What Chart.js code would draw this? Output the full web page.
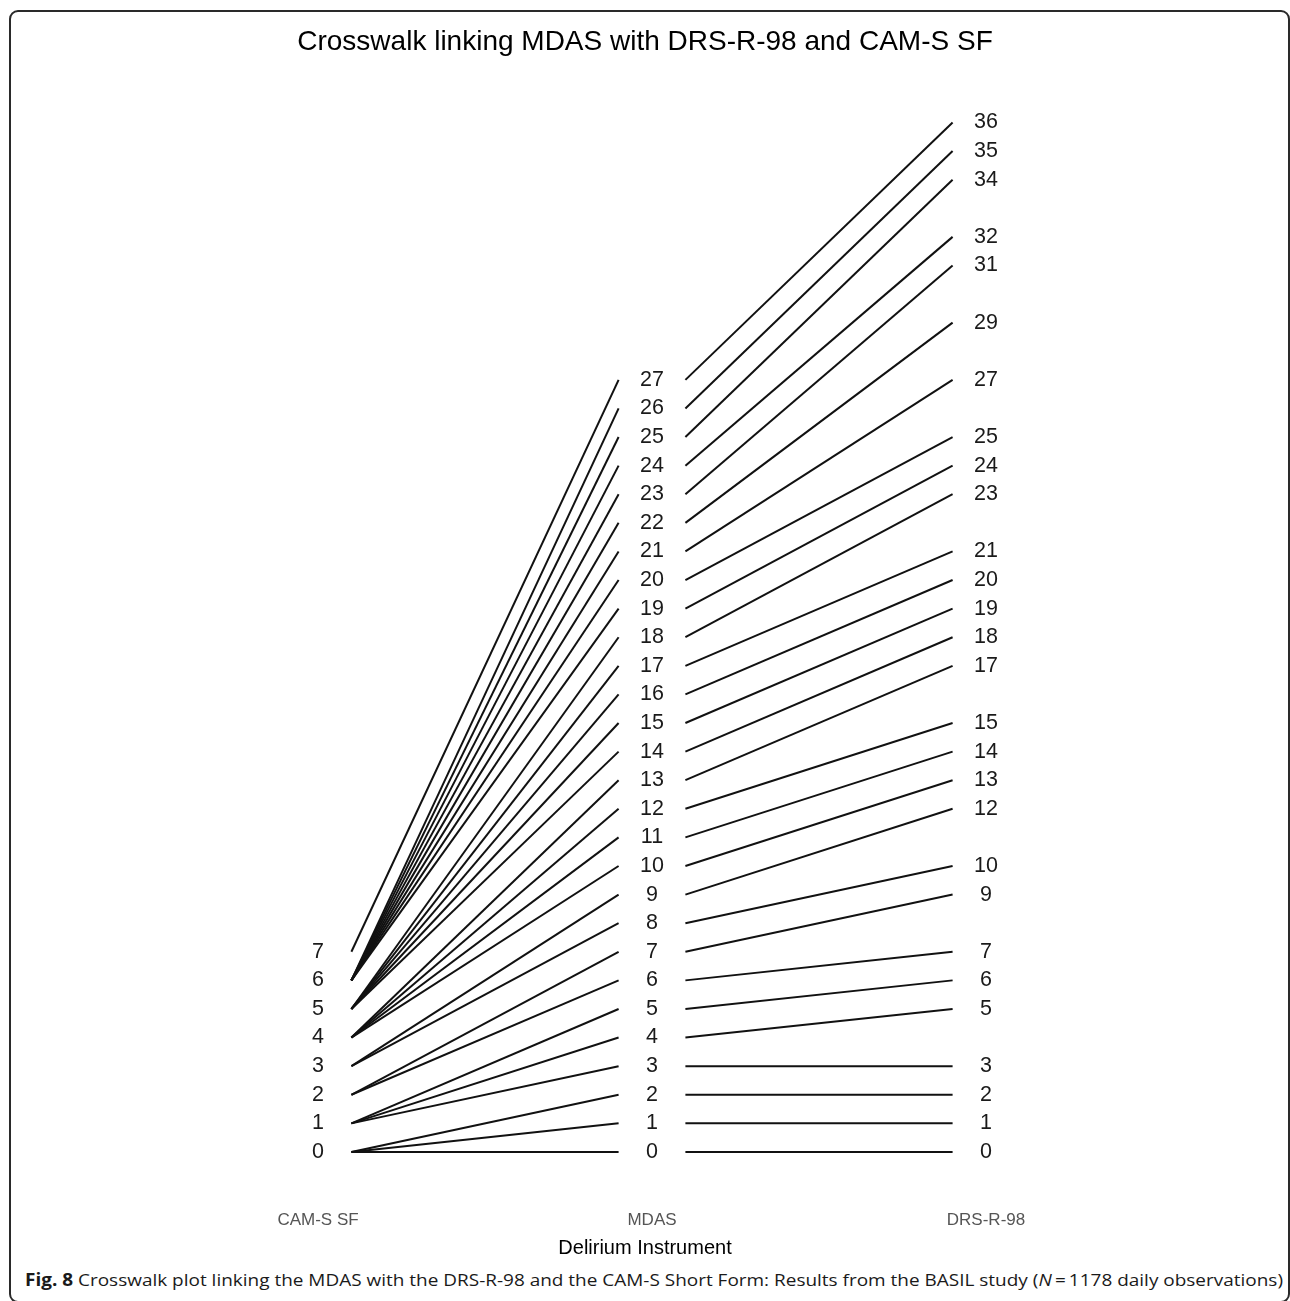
<!DOCTYPE html>
<html>
<head>
<meta charset="utf-8">
<script src="https://cdn.jsdelivr.net/npm/chart.js@4/dist/chart.umd.min.js"></script>
<style>
  html, body { margin: 0; padding: 0; background: #fff; }
  body { width: 1290px; height: 1301px; position: relative; overflow: hidden; }
  #frame { position: absolute; left: 9px; top: 10px; width: 1281px; height: 1293px;
           border: 2px solid #2a2a2a; border-radius: 9px; box-sizing: border-box; }
  #wrap { position: absolute; left: 0; top: 0; width: 1290px; height: 1264px; }
  #caption { position: absolute; left: 25px; top: 1268px; white-space: nowrap;
             font-family: "Open Sans", "Noto Sans", sans-serif; font-size: 17px; color: #1a1a1a;
             transform-origin: left center; line-height: 24px; }
  #caption b { font-weight: 700; }
</style>
</head>
<body>
<div id="frame"></div>
<div id="wrap"><canvas id="c" width="1290" height="1264"></canvas></div>
<div id="caption"><b>Fig. 8</b> Crosswalk plot linking the MDAS with the DRS-R-98 and the CAM-S Short Form: Results from the BASIL study (<i>N</i>&thinsp;=&thinsp;1178 daily observations)</div>
<script>
// ---- data ----
const instruments = ["CAM-S SF", "MDAS", "DRS-R-98"];
const mdasScores = [0,1,2,3,4,5,6,7,8,9,10,11,12,13,14,15,16,17,18,19,20,21,22,23,24,25,26,27];
const camForMdas = [0,0,0,1,1,1,2,2,3,3,4,4,4,4,5,5,5,5,5,6,6,6,6,6,6,6,6,7];
const drsForMdas = [0,1,2,3,5,6,7,9,10,12,13,14,15,17,18,19,20,21,23,24,25,27,29,31,32,34,35,36];
const camLabels = [0,1,2,3,4,5,6,7];
const titleText = "Crosswalk linking MDAS with DRS-R-98 and CAM-S SF";
const xTitle = "Delirium Instrument";

// ---- build datasets ----
const datasets = [];
mdasScores.forEach((m, i) => {
  datasets.push({ data: [{x: 1.1, y: camForMdas[i]}, {x: 1.9, y: m}] });
  datasets.push({ data: [{x: 2.1, y: m}, {x: 2.9, y: drsForMdas[i]}] });
});
datasets.forEach(d => {
  d.borderColor = '#111'; d.borderWidth = 2; d.pointRadius = 0; d.fill = false; d.tension = 0;
});

const drsLabels = Array.from(new Set(drsForMdas));
const labelPlugin = {
  id: 'valueLabels',
  afterDatasetsDraw(chart) {
    const ctx = chart.ctx, xs = chart.scales.x, ys = chart.scales.y;
    ctx.save();
    ctx.font = '21.5px "Liberation Sans", Arial, sans-serif';
    ctx.fillStyle = '#1a1a1a';
    ctx.textAlign = 'center';
    ctx.textBaseline = 'middle';
    const put = (inst, vals) => vals.forEach(v => ctx.fillText(String(v), xs.getPixelForValue(inst), ys.getPixelForValue(v)));
    put(1, camLabels);
    put(2, mdasScores);
    put(3, drsLabels);
    ctx.restore();
  }
};

new Chart(document.getElementById('c'), {
  type: 'line',
  data: { datasets },
  plugins: [labelPlugin],
  options: {
    responsive: false,
    animation: false,
    events: [],
    layout: { padding: 0 },
    plugins: {
      legend: { display: false },
      tooltip: { enabled: false },
      title: {
        display: true, text: titleText, color: '#000',
        font: { family: '"Liberation Sans", Arial, sans-serif', size: 28, weight: 'normal' },
        padding: { top: 25, bottom: 33 }
      }
    },
    scales: {
      x: {
        type: 'linear', min: 1 - 318/334, max: 3 + 304/334,
        afterBuildTicks: s => { s.ticks = [{value: 1}, {value: 2}, {value: 3}]; },
        ticks: {
          padding: 2, color: '#555',
          font: { family: '"Liberation Sans", Arial, sans-serif', size: 17 },
          callback: v => instruments[v - 1]
        },
        grid: { display: false },
        border: { display: false },
        title: {
          display: true, text: xTitle, color: '#000',
          font: { family: '"Liberation Sans", Arial, sans-serif', size: 20 },
          padding: { top: 3.6, bottom: 4 }
        }
      },
      y: { type: 'linear', min: -1.68, max: 37.08, display: false }
    }
  }
});

// fit caption width to the reference's line length
const cap = document.getElementById('caption');
const w = cap.getBoundingClientRect().width;
cap.style.transform = 'scaleX(' + (1258 / w) + ')';
</script>
</body>
</html>
